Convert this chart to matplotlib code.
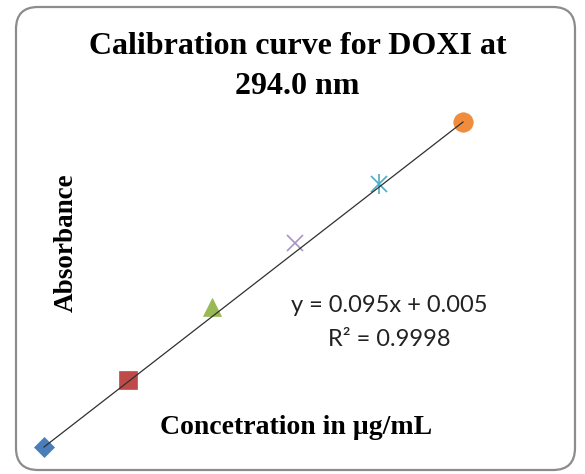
import matplotlib
matplotlib.use("Agg")
import matplotlib.pyplot as plt
from matplotlib.patches import FancyBboxPatch
import numpy as np

# Data
conc = [2, 4, 6, 8, 10, 12]
absorbance = [0.195, 0.391, 0.604, 0.791, 0.964, 1.145]
slope, intercept = 0.095, 0.005
markers = ['D', 's', '^', 'x', 'star', 'o']
colors = ['#4A7EBB', '#BE4B48', '#98B954', '#A795C6', '#4BACC6', '#F08C3C']
sizes = [10, 13, 13, 12, 12, 14]

fig = plt.figure(figsize=(5.85, 4.74), dpi=100)
ax = fig.add_axes([0, 0, 1, 1])
ax.set_xlim(0.950, 14.912)
ax.set_ylim(0.1161, 1.5016)
ax.axis('off')

xs = np.array([conc[0], conc[-1]])
ax.plot(xs, slope * xs + intercept, color='#303030', lw=0.9, zorder=3)

for x, y, m, c, s in zip(conc, absorbance, markers, colors, sizes):
    if m == 'star':
        ax.plot([x], [y], marker='x', ms=s, mec=c, mew=1.2, ls='none', zorder=2)
        ax.plot([x], [y], marker='|', ms=s * 1.15, mec=c, mew=1.2, ls='none', zorder=2)
    elif m == 'x':
        ax.plot([x], [y], marker='x', ms=s, mec=c, mew=1.2, ls='none', zorder=2)
    else:
        ax.plot([x], [y], marker=m, ms=s, mfc=c, mec=c, mew=0.5, ls='none', zorder=2)

border = FancyBboxPatch((16, 4), 559, 463, boxstyle="round,pad=0,rounding_size=22",
                        transform=None, fill=False, ec='#8C8C8C', lw=1.6)
fig.add_artist(border)

serif = 'Liberation Serif'
fig.text(298 / 585, 1 - 46 / 474, "Calibration curve for DOXI at", ha='center', va='center',
         fontsize=23, fontweight='bold', family=serif)
fig.text(297 / 585, 1 - 86 / 474, "294.0 nm", ha='center', va='center',
         fontsize=23, fontweight='bold', family=serif)
fig.text(66 / 585, 1 - 243 / 474, "Absorbance", ha='center', va='center', rotation=90,
         fontsize=19.5, fontweight='bold', family=serif)
fig.text(296 / 585, 1 - 427 / 474, "Concetration in µg/mL", ha='center', va='center',
         fontsize=20, fontweight='bold', family=serif)
fig.text(389 / 585, 1 - 305 / 474, "y = 0.095x + 0.005", ha='center', va='center',
         fontsize=17, family='Lato', color='#222222')
fig.text(389 / 585, 1 - 339 / 474, "R² = 0.9998", ha='center', va='center',
         fontsize=17, family='Lato', color='#222222')

fig.savefig("out.png", dpi=100)
